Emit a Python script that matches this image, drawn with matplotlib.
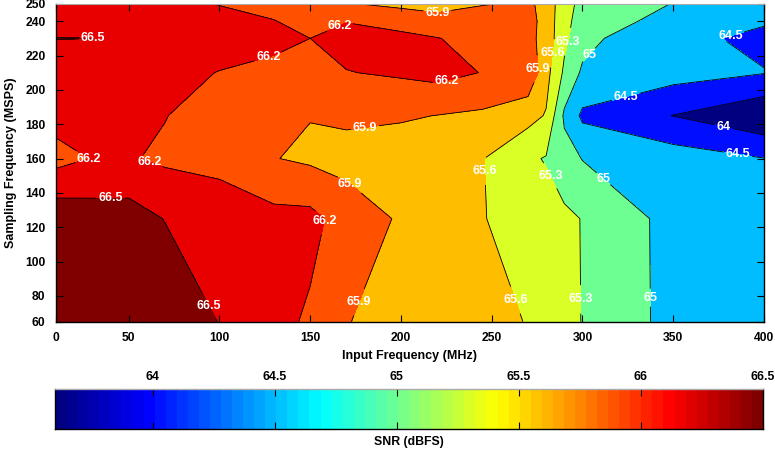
import numpy as np
import matplotlib
matplotlib.use('Agg')
import matplotlib.pyplot as plt
from matplotlib.colors import Normalize, LinearSegmentedColormap
from matplotlib.cm import ScalarMappable

plt.rcParams['font.family'] = ['Liberation Sans', 'DejaVu Sans']
plt.rcParams['font.weight'] = 'bold'

# ---- data ----
input_freq = [10, 30, 50, 70, 100, 130, 150, 170, 200, 220, 245, 270, 280, 290, 300, 350, 400]
sampling_freq = [65, 125, 160, 185, 210, 230, 240, 250]
snr_65 = [66.9, 66.85, 66.8, 66.75, 66.49, 66.3, 66.154, 65.91, 65.8, 65.75, 65.68, 65.59, 65.5, 65.4, 65.29, 64.903, 64.8]
snr_125 = [66.709, 66.65, 66.644, 66.49, 66.39, 66.293, 66.2875, 66.07, 65.866, 65.75, 65.61, 65.5, 65.42, 65.36, 65.29, 64.898, 64.7]
snr_160 = [66.1, 66.21, 66.225, 66.15, 66.1, 65.91, 65.85, 65.8, 65.75, 65.7, 65.61, 65.35, 65.28, 65.12, 64.99, 64.75, 64.51]
snr_185 = [66.308, 66.35, 66.3, 66.21, 66.05, 66.0, 65.91, 65.95, 65.93, 65.895, 65.85, 65.7, 65.58, 64.95, 64.4, 63.99, 63.58]
snr_210 = [66.4, 66.4, 66.38, 66.3, 66.19, 66.1, 66.05, 66.19, 66.24, 66.296, 66.19, 66.15, 65.7, 65.25, 64.95, 64.7, 64.52]
snr_230 = [66.503, 66.501, 66.46, 66.4, 66.35, 66.3, 66.2, 66.3, 66.28, 66.21, 66.1, 65.992, 65.787, 65.362, 65.114, 64.64, 64.38]
snr_240 = [66.42, 66.42, 66.4, 66.35, 66.3, 66.21, 66.1, 66.19, 66.08, 66.0, 66.1, 66.0, 65.8, 65.375, 65.19, 64.88, 64.55]
snr_250 = [66.4, 66.4, 66.35, 66.3, 66.19, 66.1, 66.0, 65.92, 65.84, 65.8, 65.88, 65.95, 65.815, 65.385, 65.236, 64.99, 64.7]

contour_levels = [64, 64.5, 65, 65.3, 65.6, 65.9, 66.2, 66.5]
x_tick_pos = [10, 50, 100, 150, 200, 250, 300, 350, 400]
x_tick_labels = ['0', '50', '100', '150', '200', '250', '300', '350', '400']
y_tick_pos = [65, 80, 100, 120, 140, 160, 180, 200, 220, 240, 250]
y_tick_labels = ['60', '80', '100', '120', '140', '160', '180', '200', '220', '240', '250']
cbar_ticks = [64, 64.5, 65, 65.5, 66, 66.5]
cbar_min, cbar_max = 63.6, 66.5

label_spots = {
    66.5: [(34, 230), (40, 137), (96, 75)],
    66.2: [(30, 163), (62, 160), (127, 219), (167, 236), (161, 123), (225, 206)],
    65.9: [(220, 243), (277, 212), (180, 179), (171, 144), (178, 76)],
    65.6: [(286, 221), (248, 153), (267, 79)],
    65.3: [(296, 227), (286, 152), (303, 78)],
    65: [(303, 221), (313, 150), (339, 79)],
    64.5: [(382, 230), (324, 195), (386, 165)],
    64: [(378, 180)],
}

Z = np.array([snr_65, snr_125, snr_160, snr_185, snr_210, snr_230, snr_240, snr_250])
X, Y = np.meshgrid(input_freq, sampling_freq)

# MATLAB-style jet colour map
jet_segments = {
    'red': [(0, 0, 0), (0.375, 0, 0), (0.625, 1, 1), (0.875, 1, 1), (1, 0.5, 0.5)],
    'green': [(0, 0, 0), (0.125, 0, 0), (0.375, 1, 1), (0.625, 1, 1), (0.875, 0, 0), (1, 0, 0)],
    'blue': [(0, 0.5, 0.5), (0.125, 1, 1), (0.375, 1, 1), (0.625, 0, 0), (1, 0, 0)],
}
jet = LinearSegmentedColormap('mjet', jet_segments, N=256)
cmap = LinearSegmentedColormap('mjet64', jet_segments, N=64)

W, H = 775, 450
fig = plt.figure(figsize=(W / 100, H / 100), dpi=100)
ax = fig.add_axes([56 / W, 1 - 321.7 / H, (764 - 56) / W, (321.7 - 4) / H])

norm = Normalize(cbar_min, cbar_max)
fill_levels = [Z.min() - 0.1] + contour_levels + [Z.max() + 0.1]
band_lower = [cbar_min] + contour_levels
fill_colors = [jet(norm(v)) for v in band_lower]

ax.contourf(X, Y, Z, levels=fill_levels, colors=fill_colors)
for lev in contour_levels:
    cs = ax.contour(X, Y, Z, levels=[lev], colors='black', linewidths=0.6)
    texts = cs.clabel(manual=label_spots[lev], inline=True, inline_spacing=2,
                      fmt='%g', colors='white', fontsize=9)
    for t in texts:
        t.set_rotation(0)
        t.set_fontweight('bold')

ax.set_xlim(10, 400)
ax.set_ylim(65, 250)
ax.set_xticks(x_tick_pos, x_tick_labels)
ax.set_yticks(y_tick_pos, y_tick_labels)
ax.tick_params(direction='in', top=True, right=True, length=4.8, width=0.8,
               labelsize=8.7, pad=7.5)
for lab in ax.get_xticklabels() + ax.get_yticklabels():
    lab.set_fontweight('bold')
ax.spines['top'].set_color('#aaaaaa')
for s in ['left', 'right', 'bottom']:
    ax.spines[s].set_linewidth(1.0)
ax.set_xlabel('Input Frequency (MHz)', fontsize=9, fontweight='bold', labelpad=4)
ax.set_ylabel('Sampling Frequency (MSPS)', fontsize=9, fontweight='bold', labelpad=6)

cax = fig.add_axes([55 / W, 1 - 429 / H, (763 - 55) / W, 40 / H])
cb = fig.colorbar(ScalarMappable(norm=norm, cmap=cmap), cax=cax, orientation='horizontal')
cb.outline.set_visible(False)
for s in ['left', 'right', 'bottom', 'top']:
    cax.spines[s].set_visible(True)
    cax.spines[s].set_linewidth(1.0)
cax.spines['top'].set_color('#aaaaaa')
cb.set_ticks(cbar_ticks, labels=['%g' % v for v in cbar_ticks])
cax.tick_params(axis='x', direction='in', top=True, bottom=True, labeltop=True,
                labelbottom=False, length=5, width=0.8, labelsize=8.8, pad=4)
for lab in cax.get_xticklabels():
    lab.set_fontweight('bold')
cax.xaxis.set_label_position('bottom')
cax.set_xlabel('SNR (dBFS)', fontsize=8.8, fontweight='bold', labelpad=5)

fig.savefig('out.png', dpi=100)
